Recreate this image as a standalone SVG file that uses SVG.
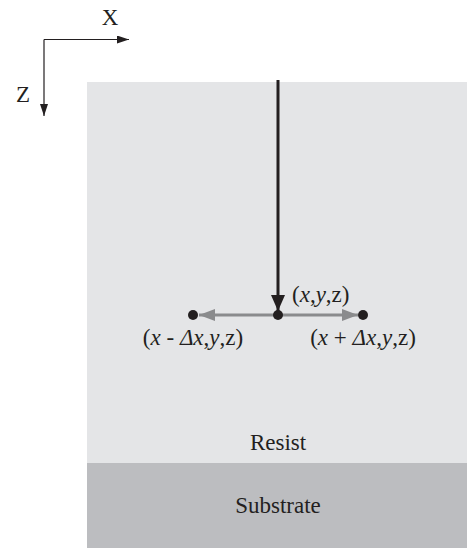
<svg xmlns="http://www.w3.org/2000/svg" width="467" height="548" viewBox="0 0 467 548">
<style>
text{font-family:"Liberation Serif","Times New Roman",serif;font-size:23px;fill:#231f20}
.i{font-style:italic}
.ax{stroke:#231f20;stroke-width:1.2;fill:none}
.blk{stroke:#231f20;stroke-width:3;fill:none}
.gry{stroke:#8a8b8d;stroke-width:3;fill:none}
</style>
<defs>
<marker id="ah" markerWidth="12" markerHeight="8" refX="12" refY="4" orient="auto" markerUnits="userSpaceOnUse"><path d="M0,0 L12,4 L0,8 Z" fill="#231f20"/></marker>
<marker id="bh" markerWidth="16" markerHeight="14" refX="16" refY="7" orient="auto" markerUnits="userSpaceOnUse"><path d="M0,0 L16,7 L0,14 Z" fill="#231f20"/></marker>
<marker id="gh" markerWidth="16" markerHeight="12" refX="16" refY="6" orient="auto" markerUnits="userSpaceOnUse"><path d="M0,0 L16,6 L0,12 Z" fill="#8a8b8d"/></marker>
</defs>
<g id="resist"><rect x="87" y="82" width="380" height="381" fill="#e4e5e7"/><text x="278" y="450" text-anchor="middle">Resist</text></g>
<g id="substrate"><rect x="87" y="463" width="380" height="85" fill="#bcbdc0"/><text x="278" y="513" text-anchor="middle">Substrate</text></g>
<g id="axes">
<path class="ax" d="M44,39.5 H129" marker-end="url(#ah)"/>
<path class="ax" d="M44,39.5 V116" marker-end="url(#ah)"/>
<text x="110" y="25" text-anchor="middle">X</text>
<text x="23" y="102" text-anchor="middle">Z</text>
</g>
<g id="connectors">
<path class="blk" d="M278,80 V311" marker-end="url(#bh)"/>
<path class="gry" d="M278,315 H199" marker-end="url(#gh)"/>
<path class="gry" d="M278,315 H358" marker-end="url(#gh)"/>
</g>
<g id="center"><circle cx="278" cy="315" r="5" fill="#231f20"/><text x="292" y="302"><tspan>(</tspan><tspan class="i">x</tspan><tspan>,</tspan><tspan class="i">y</tspan><tspan>,z)</tspan></text></g>
<g id="left"><circle cx="193" cy="315" r="5" fill="#231f20"/><text x="193" y="345" text-anchor="middle"><tspan>(</tspan><tspan class="i">x</tspan><tspan> - </tspan><tspan class="i">Δx</tspan><tspan>,</tspan><tspan class="i">y</tspan><tspan>,z)</tspan></text></g>
<g id="right"><circle cx="363" cy="315" r="5" fill="#231f20"/><text x="363" y="345" text-anchor="middle"><tspan>(</tspan><tspan class="i">x</tspan><tspan> + </tspan><tspan class="i">Δx</tspan><tspan>,</tspan><tspan class="i">y</tspan><tspan>,z)</tspan></text></g>
</svg>
